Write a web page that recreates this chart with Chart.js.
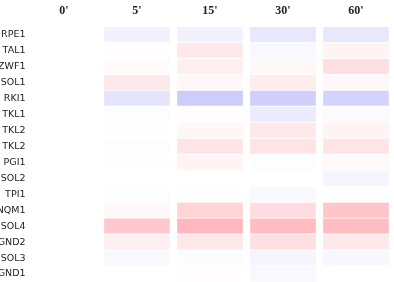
<!DOCTYPE html>
<html>
<head>
<meta charset="utf-8">
<script src="https://cdn.jsdelivr.net/npm/chart.js@4"></script>
<style>
  html, body { margin: 0; padding: 0; background: #fff; overflow: hidden; }
  canvas { display: block; }
</style>
</head>
<body>
<canvas id="heatmap" width="394" height="282"></canvas>
<script>
// time points (columns) and genes (rows)
const columns = ["0'", "5'", "15'", "30'", "60'"];
const genes = ["RPE1", "TAL1", "ZWF1", "SOL1", "RKI1", "TKL1", "TKL2", "TKL2",
               "PGI1", "SOL2", "TPI1", "NQM1", "SOL4", "GND2", "SOL3", "GND1"];

// relative change per gene, one array per time point (red = up, blue = down)
const t0  = [0, 0, 0, 0, 0, 0, 0, 0, 0, 0, 0, 0, 0, 0, 0, 0];
const t5  = [-0.2, 0.02, 0.05, 0.3, -0.4, -0.03, -0.02, -0.03, 0.02, 0, -0.03, 0.1, 0.7, 0.2, -0.1, 0];
const t15 = [-0.2, 0.3, 0.2, 0.1, -0.75, 0.02, 0.12, 0.35, 0.15, 0, -0.02, 0.55, 0.9, 0.3, -0.05, 0.02];
const t30 = [-0.35, -0.1, 0.1, 0.25, -0.7, -0.3, 0.3, 0.35, -0.03, 0, -0.1, 0.45, 0.85, 0.4, -0.15, -0.1];
const t60 = [-0.35, 0.15, 0.4, 0.1, -0.65, -0.08, 0.15, 0.35, 0.08, -0.15, -0.02, 0.75, 0.85, 0.3, -0.12, 0];

const series = [t0, t5, t15, t30, t60];

function cellColor(v) {
    if (v >= 0) {
        return `rgb(255, ${Math.round(255 - 78 * v)}, ${Math.round(255 - 72 * v)})`;
    }
    const a = -v;
    return `rgb(${Math.round(255 - 67 * a)}, ${Math.round(255 - 67 * a)}, ${Math.round(255 - 6 * a)})`;
}

const datasets = series.map((vals, c) => ({
    label: columns[c],
    data: vals.map(() => [c + 0.05, c + 0.95]),
    backgroundColor: vals.map(cellColor),
    borderWidth: 0,
    barPercentage: 0.94,
    categoryPercentage: 1,
    grouped: false
}));

new Chart(document.getElementById("heatmap"), {
    type: "bar",
    data: { labels: genes, datasets: datasets },
    options: {
        responsive: false,
        indexAxis: "y",
        animation: false,
        layout: { padding: { left: 0, right: 1.5, top: 0, bottom: 0 } },
        plugins: { legend: { display: false }, tooltip: { enabled: false } },
        scales: {
            x: {
                type: "linear",
                min: 0,
                max: 5,
                display: false
            },
            cols: {
                type: "category",
                axis: "x",
                labels: columns,
                position: "top",
                offset: true,
                grid: { display: false, drawTicks: false },
                border: { display: false },
                ticks: {
                    color: "#222",
                    padding: 8,
                    font: { family: "Liberation Serif", size: 12, weight: "bold" }
                },
                afterFit: s => { s.height = 26.5; }
            },
            y: {
                type: "category",
                grid: { display: false, drawTicks: false },
                border: { display: false },
                ticks: {
                    color: "#222",
                    padding: 2,
                    font: { family: "DejaVu Sans", size: 9.5 }
                },
                afterFit: s => {
                    s.width = 27.5;
                    s.paddingTop = 0;
                    s.paddingBottom = 0;
                }
            }
        }
    }
});
</script>
</body>
</html>
